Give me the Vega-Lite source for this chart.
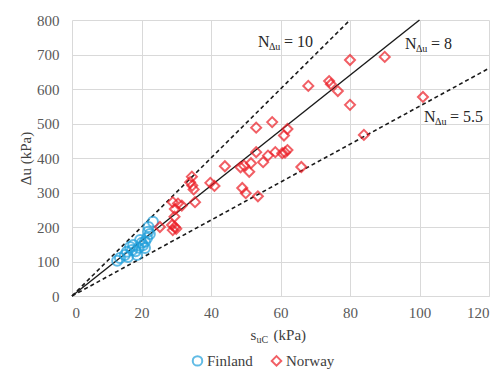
{
  "$schema": "https://vega.github.io/schema/vega-lite/v6.json",
  "width": 417,
  "height": 276,
  "autosize": "none",
  "padding": {"left": 72, "top": 20, "right": 15, "bottom": 77},
  "background": "white",
  "config": {
    "view": {"stroke": null},
    "font": "Liberation Serif",
    "axis": {
      "labelFont": "Liberation Serif",
      "labelFontSize": 15,
      "labelColor": "#595959",
      "titleFont": "Liberation Serif",
      "titleFontSize": 15,
      "titleFontWeight": "normal",
      "titleColor": "#404040",
      "gridColor": "#d9d9d9",
      "gridWidth": 1,
      "ticks": false,
      "domainColor": "#d9d9d9"
    },
    "legend": {"labelFont": "Liberation Serif"}
  },
  "datasets": {
    "refs": [
      {"n": "8", "x": 0, "y": 0}, {"n": "8", "x": 100, "y": 800},
      {"n": "10", "x": 0, "y": 0}, {"n": "10", "x": 80, "y": 800},
      {"n": "5.5", "x": 0, "y": 0}, {"n": "5.5", "x": 120, "y": 660}
    ],
    "ann": [
      {"lab": "= 10", "x": 53.5, "y": 722},
      {"lab": "= 8", "x": 95.8, "y": 716},
      {"lab": "= 5.5", "x": 101.3, "y": 504}
    ],
    "xt": [{"x": 51.4, "y": -127}],
    "pts": [
      {"c": "Finland", "x": 13, "y": 102},
      {"c": "Finland", "x": 13.8, "y": 110},
      {"c": "Finland", "x": 15.2, "y": 119},
      {"c": "Finland", "x": 16.1, "y": 113},
      {"c": "Finland", "x": 16.7, "y": 142},
      {"c": "Finland", "x": 17.3, "y": 133},
      {"c": "Finland", "x": 17.6, "y": 148},
      {"c": "Finland", "x": 18.7, "y": 119},
      {"c": "Finland", "x": 18.3, "y": 130},
      {"c": "Finland", "x": 19.2, "y": 140},
      {"c": "Finland", "x": 19.6, "y": 162},
      {"c": "Finland", "x": 20.1, "y": 154},
      {"c": "Finland", "x": 20.4, "y": 147},
      {"c": "Finland", "x": 21, "y": 157},
      {"c": "Finland", "x": 21, "y": 139},
      {"c": "Finland", "x": 21.6, "y": 168},
      {"c": "Finland", "x": 21.9, "y": 186},
      {"c": "Finland", "x": 22, "y": 200},
      {"c": "Finland", "x": 22.4, "y": 180},
      {"c": "Finland", "x": 23.3, "y": 215},
      {"c": "Finland", "x": 15.8, "y": 128},
      {"c": "Norway", "x": 90, "y": 693},
      {"c": "Norway", "x": 80, "y": 684},
      {"c": "Norway", "x": 68, "y": 609},
      {"c": "Norway", "x": 74, "y": 623},
      {"c": "Norway", "x": 74.5, "y": 614},
      {"c": "Norway", "x": 57.6, "y": 504},
      {"c": "Norway", "x": 76.5, "y": 594},
      {"c": "Norway", "x": 80, "y": 554},
      {"c": "Norway", "x": 101, "y": 577},
      {"c": "Norway", "x": 84, "y": 467},
      {"c": "Norway", "x": 66, "y": 374},
      {"c": "Norway", "x": 53, "y": 488},
      {"c": "Norway", "x": 62, "y": 484},
      {"c": "Norway", "x": 61, "y": 465},
      {"c": "Norway", "x": 62, "y": 423},
      {"c": "Norway", "x": 61.3, "y": 416},
      {"c": "Norway", "x": 60.5, "y": 414},
      {"c": "Norway", "x": 58.5, "y": 417},
      {"c": "Norway", "x": 56.4, "y": 407},
      {"c": "Norway", "x": 55, "y": 388},
      {"c": "Norway", "x": 53, "y": 417},
      {"c": "Norway", "x": 51.5, "y": 385},
      {"c": "Norway", "x": 49.5, "y": 378},
      {"c": "Norway", "x": 48.5, "y": 373},
      {"c": "Norway", "x": 51, "y": 360},
      {"c": "Norway", "x": 49, "y": 313},
      {"c": "Norway", "x": 50, "y": 298},
      {"c": "Norway", "x": 53.5, "y": 289},
      {"c": "Norway", "x": 44, "y": 376},
      {"c": "Norway", "x": 39.8, "y": 328},
      {"c": "Norway", "x": 41, "y": 319},
      {"c": "Norway", "x": 34.5, "y": 346},
      {"c": "Norway", "x": 34, "y": 330},
      {"c": "Norway", "x": 34.6, "y": 320},
      {"c": "Norway", "x": 35, "y": 309},
      {"c": "Norway", "x": 35.4, "y": 272},
      {"c": "Norway", "x": 29, "y": 272},
      {"c": "Norway", "x": 30.5, "y": 268},
      {"c": "Norway", "x": 31.6, "y": 262},
      {"c": "Norway", "x": 29.6, "y": 252},
      {"c": "Norway", "x": 29.5, "y": 230},
      {"c": "Norway", "x": 28.8, "y": 206},
      {"c": "Norway", "x": 29.6, "y": 200},
      {"c": "Norway", "x": 29, "y": 191},
      {"c": "Norway", "x": 30, "y": 195},
      {"c": "Norway", "x": 25.3, "y": 200}
    ]
  },
  "encoding": {
    "x": {
      "field": "x", "type": "quantitative",
      "scale": {"domain": [0, 120], "nice": false},
      "axis": {"values": [0, 20, 40, 60, 80, 100, 120], "title": null, "labelPadding": 9, "grid": true, "labelFont": "Liberation Serif"}
    },
    "y": {
      "field": "y", "type": "quantitative",
      "scale": {"domain": [0, 800], "nice": false},
      "axis": {"values": [0, 100, 200, 300, 400, 500, 600, 700, 800], "title": "Δu (kPa)", "labelPadding": 13, "titlePadding": 3, "grid": true, "domain": false, "labelFont": "Liberation Serif", "titleFont": "Liberation Serif"}
    }
  },
  "layer": [
    {
      "data": {"name": "refs"},
      "transform": [{"filter": "datum.n == '8'"}],
      "mark": {"type": "line", "color": "#1a1a1a", "strokeWidth": 1.4},
      "encoding": {"detail": {"field": "n"}}
    },
    {
      "data": {"name": "refs"},
      "transform": [{"filter": "datum.n != '8'"}],
      "mark": {"type": "line", "color": "#1a1a1a", "strokeWidth": 1.6, "strokeDash": [4, 3]},
      "encoding": {"detail": {"field": "n"}}
    },
    {
      "data": {"name": "pts"},
      "mark": {"type": "point", "filled": false, "strokeWidth": 2, "size": 100},
      "encoding": {
        "shape": {
          "field": "c", "type": "nominal",
          "scale": {"domain": ["Finland", "Norway"], "range": ["circle", "diamond"]},
          "legend": {
            "title": null, "orient": "none", "direction": "horizontal",
            "legendX": 118, "legendY": 333, "padding": 0,
            "labelFont": "Liberation Serif", "labelFontSize": 15, "labelColor": "#404040",
            "symbolSize": 90, "symbolStrokeWidth": 2, "labelOffset": 2, "columnPadding": 14
          }
        },
        "color": {
          "field": "c", "type": "nominal",
          "scale": {"domain": ["Finland", "Norway"], "range": ["#1f9fdb", "#ec1c24"]},
          "legend": {
            "title": null, "orient": "none", "direction": "horizontal",
            "legendX": 118, "legendY": 333, "padding": 0,
            "labelFont": "Liberation Serif", "labelFontSize": 15, "labelColor": "#404040",
            "symbolSize": 90, "symbolStrokeWidth": 2, "labelOffset": 2, "columnPadding": 14
          }
        }
      }
    },
    {
      "data": {"name": "ann"},
      "mark": {"type": "text", "text": "N", "font": "Liberation Serif", "align": "left", "baseline": "alphabetic", "fontSize": 16, "color": "#262626"}
    },
    {
      "data": {"name": "ann"},
      "mark": {"type": "text", "text": "Δu", "font": "Liberation Serif", "align": "left", "baseline": "alphabetic", "fontSize": 10, "dx": 11, "dy": 3, "color": "#262626"}
    },
    {
      "data": {"name": "ann"},
      "mark": {"type": "text", "font": "Liberation Serif", "align": "left", "baseline": "alphabetic", "fontSize": 16, "dx": 26, "color": "#262626"},
      "encoding": {"text": {"field": "lab"}}
    },
    {
      "data": {"name": "xt"},
      "mark": {"type": "text", "text": "s", "font": "Liberation Serif", "align": "left", "baseline": "alphabetic", "fontSize": 15, "color": "#404040"}
    },
    {
      "data": {"name": "xt"},
      "mark": {"type": "text", "text": "uC", "font": "Liberation Serif", "align": "left", "baseline": "alphabetic", "fontSize": 10, "dx": 6, "dy": 3, "color": "#404040"}
    },
    {
      "data": {"name": "xt"},
      "mark": {"type": "text", "text": "(kPa)", "font": "Liberation Serif", "align": "left", "baseline": "alphabetic", "fontSize": 15, "dx": 23, "color": "#404040"}
    }
  ]
}
